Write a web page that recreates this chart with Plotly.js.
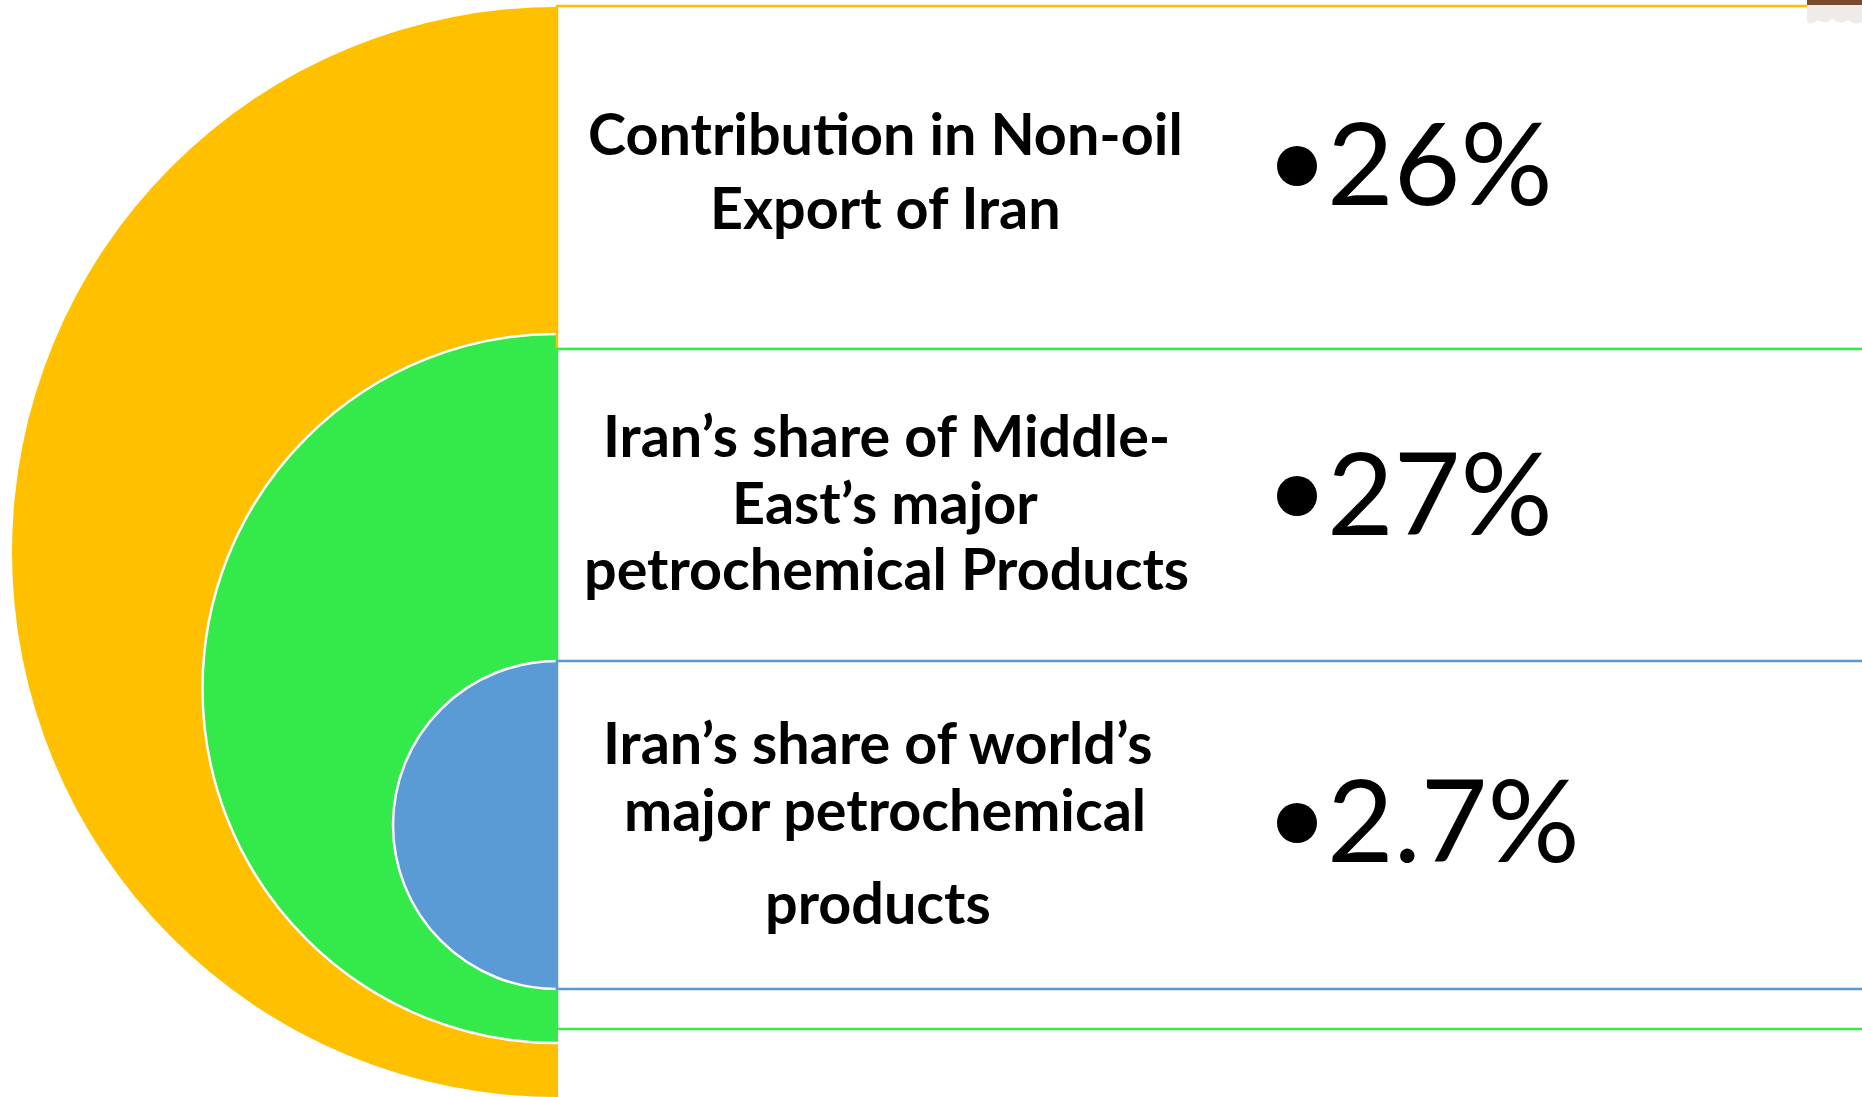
<!DOCTYPE html>
<html>
<head>
<meta charset="utf-8">
<script src="https://cdn.plot.ly/plotly-3.0.1.min.js"></script>
<style>
  html, body { margin: 0; padding: 0; background: #ffffff; }
  #chart { width: 1862px; height: 1097px; }
</style>
</head>
<body>
<div id="chart"></div>
<script>
// ---- Data ----
const categories = [
  "Contribution in Non-oil Export of Iran",
  "Iran’s share of Middle-East’s major petrochemical Products",
  "Iran’s share of world’s major petrochemical products"
];
const labelLines = [
  ["Contribution in Non-oil", "Export of Iran"],
  ["Iran’s share of Middle-", "East’s major", "petrochemical Products"],
  ["Iran’s share of world’s", "major petrochemical", "products"]
];
const values = [26, 27, 2.7];
const valueLabels = ["26%", "27%", "2.7%"];
const colors = ["#FFC000", "#33EA4A", "#5B9BD5"];

// ---- Layout geometry (pixel space) ----
const W = 1862, H = 1097;
const edgeX = 557;
const rings = [
  { cy: 552, r: 545 },
  { cy: 688.5, r: 354.5 },
  { cy: 825, r: 164 }
];
const boxes = [
  { y0: 6, y1: 349 },
  { y0: 349, y1: 1029 },
  { y0: 661, y1: 989 }
];
const lineY = [[132, 206], [434, 501, 567], [741, 808, 901]];
const lineX = [[885, 885], [886, 885, 886], [878, 885, 878]];
const valueY = [160, 490, 817];
const bulletY = [166, 496, 823];
const bulletX = 1297, bulletR = 20, valueX = 1325;

const shapes = [];
const annotations = [];

// semicircles (full circles, right halves covered)
rings.forEach((g, i) => {
  shapes.push({
    type: "circle", xref: "x", yref: "y", layer: "above",
    x0: edgeX - g.r, x1: edgeX + g.r, y0: g.cy - g.r, y1: g.cy + g.r,
    fillcolor: colors[i],
    line: { color: i === 0 ? colors[i] : "#ffffff", width: i === 0 ? 0 : 2.5 }
  });
});
// white cover for right halves
shapes.push({
  type: "rect", xref: "x", yref: "y", layer: "above",
  x0: edgeX + 1, x1: W + 10, y0: -10, y1: H + 10,
  fillcolor: "#ffffff", line: { width: 0 }
});
// boxes
boxes.forEach((b, i) => {
  shapes.push({
    type: "rect", xref: "x", yref: "y", layer: "above",
    x0: edgeX, x1: W + 20, y0: b.y0, y1: b.y1,
    fillcolor: "#ffffff",
    line: { color: colors[i], width: 2.5 }
  });
});
// bullets
bulletY.forEach((y) => {
  shapes.push({
    type: "circle", xref: "x", yref: "y", layer: "above",
    x0: bulletX - bulletR, x1: bulletX + bulletR, y0: y - bulletR, y1: y + bulletR,
    fillcolor: "#000000", line: { width: 0 }
  });
});
// top-right decoration
shapes.push({
  type: "path", xref: "x", yref: "y", layer: "above",
  path: "M 1807 0 L 1862 0 L 1862 22 Q 1855 26 1848 20 Q 1840 26 1832 18 Q 1826 26 1818 20 Q 1810 26 1807 22 Z",
  fillcolor: "#EFEBE8", line: { width: 0 }
});
shapes.push({
  type: "rect", xref: "x", yref: "y", layer: "above",
  x0: 1807, x1: 1862, y0: 0, y1: 5,
  fillcolor: "#7A4A2C", line: { width: 0 }
});

// labels
labelLines.forEach((lines, i) => {
  lines.forEach((t, j) => {
    annotations.push({
      xref: "x", yref: "y", x: lineX[i][j], y: lineY[i][j],
      xanchor: "center", yanchor: "middle", showarrow: false,
      text: t,
      font: { family: "Lato, 'Open Sans', sans-serif", size: 57.5, color: "#000000", weight: 700 }
    });
  });
});
// values
valueLabels.forEach((t, i) => {
  annotations.push({
    xref: "x", yref: "y", x: valueX, y: valueY[i],
    xanchor: "left", yanchor: "middle", showarrow: false,
    text: t,
    font: { family: "Lato, 'Open Sans', sans-serif", size: 115, color: "#000000" }
  });
});

const data = [{
  type: "scatter", mode: "markers",
  x: [edgeX], y: [rings[0].cy],
  marker: { size: 1, color: "rgba(0,0,0,0)" },
  hoverinfo: "skip", showlegend: false,
  name: categories.join(" / ") + " (" + values.join(", ") + ")"
}];

const layout = {
  width: W, height: H,
  margin: { l: 0, r: 0, t: 0, b: 0, pad: 0 },
  paper_bgcolor: "#ffffff", plot_bgcolor: "#ffffff",
  xaxis: { range: [0, W], visible: false, fixedrange: true },
  yaxis: { range: [H, 0], visible: false, fixedrange: true },
  showlegend: false,
  shapes: shapes,
  annotations: annotations
};

Plotly.newPlot("chart", data, layout, { staticPlot: true, displayModeBar: false });
</script>
</body>
</html>
